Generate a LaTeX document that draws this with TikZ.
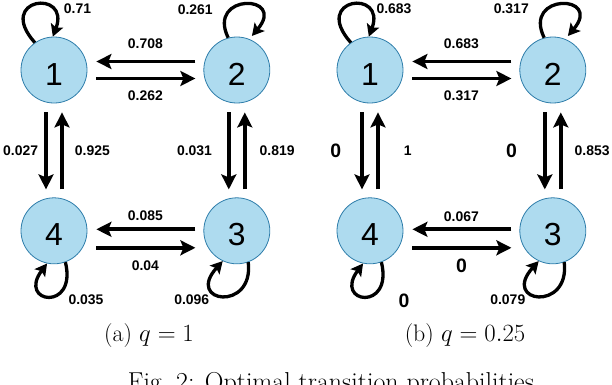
\documentclass[tikz,border=0pt]{standalone}
\usepackage{amsmath}
\usepackage{fontspec}
\setsansfont{Liberation Sans}
\usepackage{tikz}
\usetikzlibrary{arrows.meta,positioning,calc}
\definecolor{stateFill}{HTML}{AEDBEF}
\definecolor{stateEdge}{HTML}{2E7DAA}

\begin{document}
\begin{tikzpicture}[
    x=1bp, y=1bp,
    stateNode/.style={circle, draw=stateEdge, fill=stateFill, line width=0.8bp, minimum size=66bp, inner sep=0pt, font=\sffamily\fontsize{32}{32}\selectfont, text height=30bp, text depth=0pt},
    arrow/.style={-{Stealth[length=15bp, width=15bp, inset=3bp]}, line width=3.8bp, black},
    loopArrow/.style={-{Stealth[length=12bp, width=13bp, inset=2.5bp]}, line width=3.3bp, black},
    probLabel/.style={inner sep=0pt, font=\sffamily\bfseries\fontsize{14}{14}\selectfont},
    zeroLabel/.style={inner sep=0pt, font=\sffamily\bfseries\fontsize{19.5}{19.5}\selectfont},
    capText/.style={inner sep=0pt, anchor=base, font=\fontsize{24}{28}\selectfont}
]
\useasboundingbox (0,0) rectangle (612,384);

% (a) q = 1
\node[stateNode] (L1) at (54,314) {1};
\node[stateNode, right=116bp of L1] (L2) {2};
\node[stateNode, below=94bp of L1] (L4) {4};
\node[stateNode, below=94bp of L2] (L3) {3};

\draw[arrow, shorten <=8bp, shorten >=9bp] ([yshift=8.5bp]L2.west) -- ([yshift=8.5bp]L1.east) node[probLabel, midway, above=11bp] {0.708};
\draw[arrow, shorten <=9bp, shorten >=8bp] ([yshift=-8.5bp]L1.east) -- ([yshift=-8.5bp]L2.west) node[probLabel, midway, below=10bp] {0.262};
\draw[arrow, shorten <=8bp, shorten >=9bp] ([yshift=1.5bp]L3.west) -- ([yshift=1.5bp]L4.east) node[probLabel, midway, above=7bp] {0.085};
\draw[arrow, shorten <=9bp, shorten >=8bp] ([yshift=-17bp]L4.east) -- ([yshift=-17bp]L3.west) node[probLabel, midway, below=11bp] {0.04};
\draw[arrow, shorten <=9bp, shorten >=8bp] ([xshift=-8bp]L1.south) -- ([xshift=-8bp]L4.north) node[probLabel, midway, left=6bp] {0.027};
\draw[arrow, shorten <=8bp, shorten >=9bp] ([xshift=8bp]L4.north) -- ([xshift=8bp]L1.south) node[probLabel, midway, right=11bp] {0.925};
\draw[arrow, shorten <=9bp, shorten >=8bp] ([xshift=-8bp]L2.south) -- ([xshift=-8bp]L3.north) node[probLabel, midway, left=15bp] {0.031};
\draw[arrow, shorten <=8bp, shorten >=9bp] ([xshift=8bp]L3.north) -- ([xshift=8bp]L2.south) node[probLabel, midway, right=13bp] {0.819};

\draw[loopArrow] (L1.125) .. controls +(-40,45) and +(18,48) .. (L1.92);
\draw[loopArrow, shorten >=4bp] (L2.105) .. controls +(-22,45) and +(38,45) .. (L2.68);
\draw[loopArrow] (L4.-70) .. controls +(12,-50) and +(-30,-40) .. (L4.-102);
\draw[loopArrow] (L3.-70) .. controls +(6,-50) and +(-38,-42) .. (L3.-115);

\node[probLabel] (pL1) at ($(L1)+(23.5,61)$) {0.71};
\node[probLabel] (pL2) at ($(L2)+(-41.5,60.5)$) {0.261};
\node[probLabel] (pL4) at ($(L4)+(32,-69)$) {0.035};
\node[probLabel] (pL3) at ($(L3)+(-45,-69)$) {0.096};

% (b) q = 0.25
\node[stateNode] (R1) at (370,314) {1};
\node[stateNode, right=116bp of R1] (R2) {2};
\node[stateNode, below=94bp of R1] (R4) {4};
\node[stateNode, below=94bp of R2] (R3) {3};

\draw[arrow, shorten <=8bp, shorten >=9bp] ([yshift=8.5bp]R2.west) -- ([yshift=8.5bp]R1.east) node[probLabel, midway, above=11bp] {0.683};
\draw[arrow, shorten <=9bp, shorten >=8bp] ([yshift=-8.5bp]R1.east) -- ([yshift=-8.5bp]R2.west) node[probLabel, midway, below=10bp] {0.317};
\draw[arrow, shorten <=8bp, shorten >=9bp] ([yshift=1.5bp]R3.west) -- ([yshift=1.5bp]R4.east) node[probLabel, midway, above=6bp] {0.067};
\draw[arrow, shorten <=9bp, shorten >=8bp] ([yshift=-17bp]R4.east) -- ([yshift=-17bp]R3.west) node[zeroLabel, midway, below=9bp] {0};
\draw[arrow, shorten <=9bp, shorten >=8bp] ([xshift=-8bp]R1.south) -- ([xshift=-8bp]R4.north) node[zeroLabel, midway, left=19bp] {0};
\draw[arrow, shorten <=8bp, shorten >=9bp] ([xshift=8bp]R4.north) -- ([xshift=8bp]R1.south) node[probLabel, midway, right=24bp] {1};
\draw[arrow, shorten <=9bp, shorten >=8bp] ([xshift=-8bp]R2.south) -- ([xshift=-8bp]R3.north) node[zeroLabel, midway, left=26bp] {0};
\draw[arrow, shorten <=8bp, shorten >=9bp] ([xshift=8bp]R3.north) -- ([xshift=8bp]R2.south) node[probLabel, midway, right=12bp] {0.853};

\draw[loopArrow] (R1.125) .. controls +(-40,45) and +(18,48) .. (R1.92);
\draw[loopArrow, shorten >=4bp] (R2.105) .. controls +(-22,45) and +(38,45) .. (R2.68);
\draw[loopArrow] (R4.-70) .. controls +(12,-50) and +(-30,-40) .. (R4.-102);
\draw[loopArrow] (R3.-70) .. controls +(6,-50) and +(-38,-42) .. (R3.-115);

\node[probLabel] (pR1) at ($(R1)+(24,61)$) {0.683};
\node[probLabel] (pR2) at ($(R2)+(-41.5,61)$) {0.317};
\node[zeroLabel] (pR4) at ($(R4)+(34,-70)$) {0};
\node[probLabel] (pR3) at ($(R3)+(-45,-69)$) {0.079};

% captions
\node[capText] (capA) at (149,42.3) {(a) $q=1$};
\node[capText] (capB) at (465,42.3) {(b) $q=0.25$};
\node[capText, font=\fontsize{26}{30}\selectfont] (figCap) at (331,-6.5) {Fig.~2: Optimal transition probabilities};

\end{tikzpicture}
\end{document}
